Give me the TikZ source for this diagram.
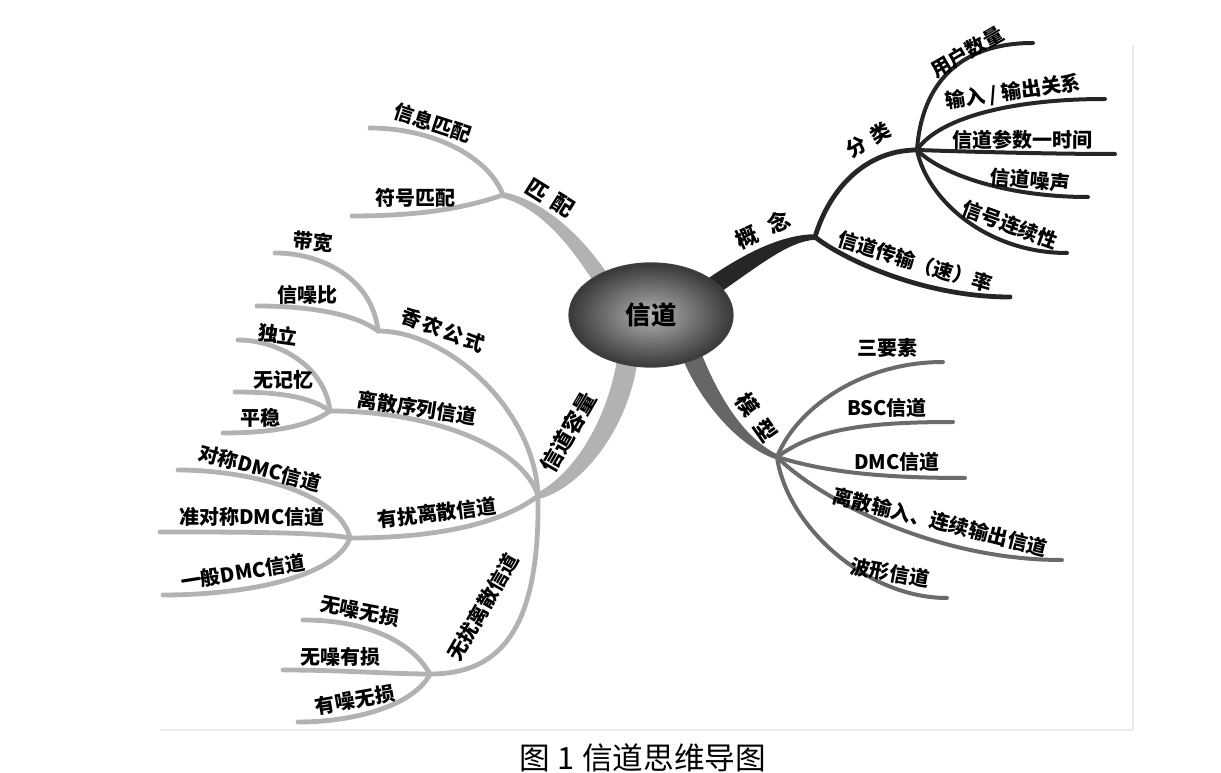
\documentclass[tikz,border=0pt]{standalone}
\usepackage{fontspec}
\setmainfont{Noto Sans CJK SC}
\usetikzlibrary{shapes.geometric,calc}

\begin{document}
\begin{tikzpicture}[x=0.75pt,y=-0.75pt,
  lab/.style={font=\bfseries\fontsize{15}{17}\selectfont,inner sep=0pt},
  head/.style={font=\bfseries\fontsize{16.5}{19}\selectfont,inner sep=0pt},
  br/.style={line width=3pt,line cap=round},
  dk/.style={br,draw=black!85},
  md/.style={br,draw=black!58},
  lt/.style={br,draw=black!30,line width=3.6pt}]
  \useasboundingbox (0,0) rectangle (1221,773);
  % faint frame of the figure
  \draw[black!8,line width=1pt] (160,730) -- (1133,730) -- (1133,45);

  % junctions
  \coordinate (gk) at (815,237); % 概念
  \coordinate (gf) at (917,150); % 分类
  \coordinate (gm) at (777,457); % 模型
  \coordinate (gp) at (503,195); % 匹配
  \coordinate (gc) at (538,496); % 信道容量
  \coordinate (gx) at (378,331); % 香农公式
  \coordinate (gs) at (330,411); % 离散序列信道
  \coordinate (gy) at (350,538); % 有扰离散信道
  \coordinate (gw) at (430,674); % 无扰离散信道
  % branch ends
  \coordinate (yhsl) at (1033,43);  \coordinate (srsc) at (1105,99);
  \coordinate (csjs) at (1115,154); \coordinate (xdzs) at (1088,197);
  \coordinate (xhlx) at (1067,253); \coordinate (csl) at (1010,297);
  \coordinate (sys) at (943,362);   \coordinate (bsc) at (953,422);
  \coordinate (dmc) at (965,478);   \coordinate (lsc) at (1062,560);
  \coordinate (bxxd) at (947,598);
  \coordinate (xxpp) at (370,128);  \coordinate (fhpp) at (352,216);
  \coordinate (dkw) at (275,253);   \coordinate (xzb) at (257,306);
  \coordinate (dli) at (238,340);   \coordinate (wjy) at (235,392);
  \coordinate (pwn) at (223,433);
  \coordinate (dcd) at (178,470);   \coordinate (zdc) at (160,532);
  \coordinate (ybd) at (163,595);
  \coordinate (wzws) at (303,620);  \coordinate (wzys) at (283,670);
  \coordinate (yzws) at (298,722);

  % main branches (tapered)
  \fill[black!85] (703,282) .. controls (748,250) and (785,234.5) .. ($(gk)+(0,-2.8)$) -- ($(gk)+(0,2.8)$) .. controls (788,241) and (756,268) .. (712,298) -- cycle;
  \fill[black!60] (700,350) .. controls (716,391) and (742,438) .. ($(gm)+(1.2,-2.2)$) -- ($(gm)+(-1.2,2.2)$) .. controls (738,446) and (702,403) .. (684,362) -- cycle;
  \fill[black!30] (612,281) .. controls (587,241) and (547,201) .. ($(gp)+(0.5,-2.8)$) -- ($(gp)+(-0.5,2.8)$) .. controls (543,209) and (573,249) .. (598,289) -- cycle;
  \fill[black!30] (638,356) .. controls (631,424) and (584,487) .. ($(gc)+(1.1,3)$) -- ($(gc)+(-1.1,-3)$) .. controls (576,473) and (609,416) .. (618,354) -- cycle;

  % 概念
  \draw[dk,line width=3.6pt] (gk) .. controls +(15,-50) and +(-50,0) .. (gf);
  \draw[dk,line width=3.6pt] (gk) .. controls +(25,20) and +(-90,0) .. (csl);
  \draw[dk] (gf) .. controls +(5,-70) and +(-70,0) .. (yhsl);
  \draw[dk] (gf) .. controls +(20,-30) and +(-100,0) .. (srsc);
  \draw[dk] (gf) .. controls +(60,2) and +(-60,0) .. (csjs);
  \draw[dk] (gf) .. controls +(25,25) and +(-80,0) .. (xdzs);
  \draw[dk] (gf) .. controls +(10,50) and +(-80,0) .. (xhlx);
  % 模型
  \draw[md] (gm) .. controls +(20,-50) and +(-80,0) .. (sys);
  \draw[md] (gm) .. controls +(35,-25) and +(-100,0) .. (bsc);
  \draw[md] (gm) .. controls +(40,12) and +(-100,0) .. (dmc);
  \draw[md] (gm) .. controls +(40,40) and +(-130,0) .. (lsc);
  \draw[md] (gm) .. controls +(10,70) and +(-80,0) .. (bxxd);
  % 匹配
  \draw[lt] (gp) .. controls +(-15,-40) and +(60,0) .. (xxpp);
  \draw[lt] (gp) .. controls +(-30,10) and +(80,0) .. (fhpp);
  % 信道容量
  \draw[lt] (gc) .. controls +(-3,-86) and +(70,0) .. (gx);
  \draw[lt] (gc) .. controls +(-15,-50) and +(100,0) .. (gs);
  \draw[lt] (gc) .. controls +(-40,30) and +(80,0) .. (gy);
  \draw[lt] (gc) .. controls +(2,134) and +(70,0) .. (gw);
  \draw[lt] (gx) .. controls +(-5,-50) and +(50,0) .. (dkw);
  \draw[lt] (gx) .. controls +(-20,-15) and +(60,0) .. (xzb);
  \draw[lt] (gs) .. controls +(-5,-45) and +(40,0) .. (dli);
  \draw[lt] (gs) .. controls +(-20,-15) and +(40,0) .. (wjy);
  \draw[lt] (gs) .. controls +(-20,15) and +(50,0) .. (pwn);
  \draw[lt] (gy) .. controls +(-10,-45) and +(70,0) .. (dcd);
  \draw[lt] (gy) .. controls +(-30,-6) and +(80,0) .. (zdc);
  \draw[lt] (gy) .. controls +(-15,40) and +(80,0) .. (ybd);
  \draw[lt] (gw) .. controls +(-20,-35) and +(60,0) .. (wzws);
  \draw[lt] (gw) .. controls +(-40,0) and +(60,0) .. (wzys);
  \draw[lt] (gw) .. controls +(-15,30) and +(60,0) .. (yzws);

  % centre
  \node[ellipse,minimum width=123pt,minimum height=78pt,draw=black!75,line width=1pt,
    inner color=black!30,outer color=black!78,font=\bfseries\fontsize{19}{21}\selectfont] (ch) at (651,315) {信道};

  % labels
  \node[head,rotate=25] (tgn) at (763,230) {概\hspace{10pt}念};
  \node[lab,rotate=30] (tfl) at (868,140) {分\hspace{6pt}类};
  \node[lab,rotate=30] (tyh) at (967,52) {用户数量};
  \node[lab,rotate=8] (tsr) at (1013,92) {输入 / 输出关系};
  \node[lab] (tcs) at (1022,140) {信道参数一时间};
  \node[lab,rotate=-5] (tzs) at (1030,180) {信道噪声};
  \node[lab,rotate=-20] (tlx) at (1010,225) {信号连续性};
  \node[lab,rotate=-17] (tcl) at (915,262) {信道传输（速）率};

  \node[head,rotate=-55] (tmx) at (757,418) {模\hspace{7pt}型};
  \node[lab] (tsy) at (887,348) {三要素};
  \node[lab] (tbs) at (887,408) {BSC信道};
  \node[lab] (tdm) at (897,462) {DMC信道};
  \node[lab,rotate=-14] (tls) at (940,522) {离散输入、连续输出信道};
  \node[lab,rotate=-10] (tbx) at (890,573) {波形信道};

  \node[head,rotate=-32] (tpp) at (550,198) {匹\hspace{6pt}配};
  \node[lab,rotate=-18] (txx) at (433,123) {信息匹配};
  \node[lab] (tfh) at (415,198) {符号匹配};

  \node[head,rotate=60] (trl) at (568,432) {信道容量};
  \node[lab,rotate=-21] (txn) at (443,330) {香\hspace{2pt}农\hspace{2pt}公\hspace{2pt}式};
  \node[lab,rotate=-5] (tdk) at (313,242) {带宽};
  \node[lab] (txz) at (307,295) {信噪比};
  \node[lab,rotate=-9] (tlx2) at (417,408) {离散序列信道};
  \node[lab,rotate=-8] (tdl) at (278,335) {独立};
  \node[lab] (twj) at (283,380) {无记忆};
  \node[lab] (tpw) at (260,418) {平稳};
  \node[lab,rotate=7] (tyr) at (437,513) {有扰离散信道};
  \node[lab,rotate=-15] (tdc) at (260,468) {对称DMC信道};
  \node[lab] (tzd) at (252,517) {准对称DMC信道};
  \node[lab,rotate=9] (tyb) at (243,572) {一般DMC信道};
  \node[lab,rotate=60] (twr) at (483,607) {无扰离散信道};
  \node[lab,rotate=-11] (tw1) at (360,611) {无噪无损};
  \node[lab] (tw2) at (340,657) {无噪有损};
  \node[lab,rotate=10] (tw3) at (355,700) {有噪无损};

  % caption
  \node[font=\fontsize{23}{25}\selectfont] (cap) at (643,758) {图 1\hspace{6pt}信道思维导图};
\end{tikzpicture}
\end{document}
